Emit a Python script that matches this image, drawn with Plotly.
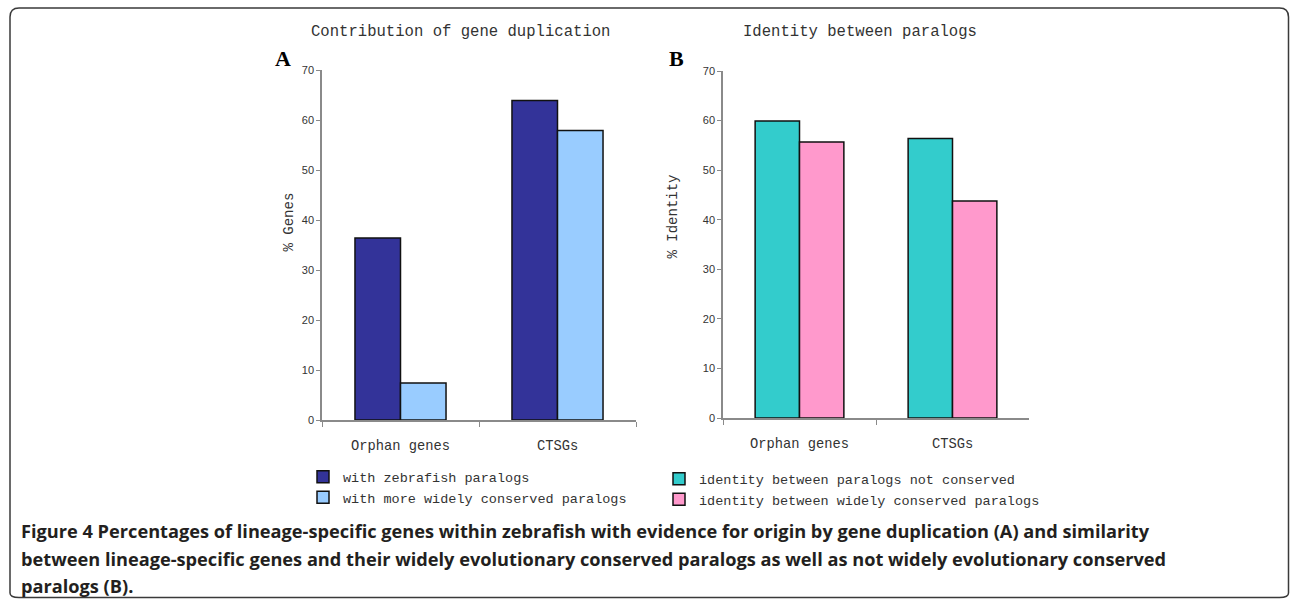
import plotly.graph_objects as go

W, H = 1290, 604

categories = ["Orphan genes", "CTSGs"]
with_zebrafish_paralogs = [36.4, 63.9]
with_widely_conserved_paralogs = [7.4, 57.9]
identity_not_conserved = [59.9, 56.4]
identity_widely_conserved = [55.7, 43.8]
y_ticks = [0, 10, 20, 30, 40, 50, 60, 70]

MONO = "Liberation Mono"
SANS = "Liberation Sans"
AX_GRAY = "#8a8a8a"
TXT = "#333333"


def px_x(v):
    return v / W


def px_y(v):
    # vertical placement helper (pixel from top -> paper fraction), with a small
    # correction for how the page is photographed
    t = (v - 6) / 0.9801
    t = min(max(t, 0.5), H - 0.5)
    return 1 - t / H


fig = go.Figure()

bar_line = dict(color="#111111", width=1.5)

fig.add_trace(go.Bar(x=categories, y=with_zebrafish_paralogs, name="with zebrafish paralogs",
                     marker=dict(color="#333399", line=bar_line), xaxis="x", yaxis="y", legend="legend"))
fig.add_trace(go.Bar(x=categories, y=with_widely_conserved_paralogs, name="with more widely conserved paralogs",
                     marker=dict(color="#99CCFF", line=bar_line), xaxis="x", yaxis="y", legend="legend"))
fig.add_trace(go.Bar(x=categories, y=identity_not_conserved, name="identity between paralogs not conserved",
                     marker=dict(color="#33CCCC", line=bar_line), xaxis="x2", yaxis="y2", legend="legend2"))
fig.add_trace(go.Bar(x=categories, y=identity_widely_conserved, name="identity between widely conserved paralogs",
                     marker=dict(color="#FF99CC", line=bar_line), xaxis="x2", yaxis="y2", legend="legend2"))

xax = dict(showline=True, linecolor=AX_GRAY, linewidth=1.5, ticks="outside", tickson="boundaries",
           ticklen=5, tickcolor=AX_GRAY, showgrid=False, zeroline=False,
           tickfont=dict(family=MONO, size=13.75, color=TXT), ticklabelstandoff=12, fixedrange=True)
yax = dict(showline=True, linecolor=AX_GRAY, linewidth=1.5, ticks="outside", ticklen=4,
           tickcolor=AX_GRAY, showgrid=False, zeroline=False, range=[0, 70], tickvals=y_ticks,
           tickfont=dict(family=SANS, size=11, color=TXT), fixedrange=True)

legend_common = dict(font=dict(family=MONO, size=13.5, color=TXT), bgcolor="rgba(0,0,0,0)",
                     xanchor="left", yanchor="top", tracegroupgap=0, itemclick=False, itemdoubleclick=False)

fig.update_layout(
    width=W, height=H,
    margin=dict(l=0, r=0, t=0, b=0),
    paper_bgcolor="white", plot_bgcolor="white",
    barmode="group", bargap=0.42, bargroupgap=0,
    xaxis=dict(xax, domain=[px_x(322), px_x(636)], anchor="y"),
    yaxis=dict(yax, domain=[px_y(420), px_y(70)], anchor="x"),
    xaxis2=dict(xax, domain=[px_x(723), px_x(1029)], anchor="y2"),
    yaxis2=dict(yax, domain=[px_y(418), px_y(71)], anchor="x2"),
    legend=dict(legend_common, x=px_x(303), y=px_y(461.5)),
    legend2=dict(legend_common, x=px_x(659), y=px_y(463.5)),
    showlegend=True,
)

annotations = [
    dict(text="Contribution of gene duplication", x=px_x(460), y=px_y(32),
         font=dict(family=MONO, size=15.6, color=TXT)),
    dict(text="Identity between paralogs", x=px_x(860), y=px_y(32),
         font=dict(family=MONO, size=15.6, color=TXT)),
    dict(text="<b>A</b>", x=px_x(283), y=px_y(58),
         font=dict(family="Liberation Serif", size=22, color="#000000")),
    dict(text="<b>B</b>", x=px_x(676), y=px_y(58),
         font=dict(family="Liberation Serif", size=22, color="#000000")),
    dict(text="% Genes", x=px_x(289.5), y=px_y(222), textangle=-90,
         font=dict(family=MONO, size=14, color=TXT)),
    dict(text="% Identity", x=px_x(673.5), y=px_y(217), textangle=-90,
         font=dict(family=MONO, size=14, color=TXT)),
]
caption_lines = [
    "Figure 4 Percentages of lineage-specific genes within zebrafish with evidence for origin by gene duplication (A) and similarity",
    "between lineage-specific genes and their widely evolutionary conserved paralogs as well as not widely evolutionary conserved",
    "paralogs (B).",
]
for i, line in enumerate(caption_lines):
    annotations.append(dict(text="<b>" + line + "</b>", x=px_x(19), y=px_y(531 + i * 27.5), xanchor="left",
                            font=dict(family="Open Sans", size=18.2, color="#231f20")))
for a in annotations:
    a.update(xref="paper", yref="paper", showarrow=False)
    a.setdefault("xanchor", "center")
    a.setdefault("yanchor", "middle")
fig.update_layout(annotations=annotations)

# rounded frame around the figure
r = 9
x0, x1, y0, y1 = 10, 1288.5, 8, 602
pts = (f"M {px_x(x0 + r)},{px_y(y0)} L {px_x(x1 - r)},{px_y(y0)} Q {px_x(x1)},{px_y(y0)} {px_x(x1)},{px_y(y0 + r)} "
       f"L {px_x(x1)},{px_y(y1 - r)} Q {px_x(x1)},{px_y(y1)} {px_x(x1 - r)},{px_y(y1)} "
       f"L {px_x(x0 + r)},{px_y(y1)} Q {px_x(x0)},{px_y(y1)} {px_x(x0)},{px_y(y1 - r)} "
       f"L {px_x(x0)},{px_y(y0 + r)} Q {px_x(x0)},{px_y(y0)} {px_x(x0 + r)},{px_y(y0)} Z")
fig.add_shape(type="path", path=pts, xref="paper", yref="paper",
              line=dict(color="#3a3a3a", width=1.5), fillcolor="rgba(0,0,0,0)", layer="below")

post = (
    "var de=document.documentElement, b=document.body;"
    "de.style.margin='0'; de.style.padding='0'; de.style.height='604px'; de.style.overflow='hidden';"
    "b.style.margin='0'; b.style.padding='0'; b.style.height='604px'; b.style.overflow='hidden';"
    "var d=document.getElementById('{plot_id}'); d.style.display='block';"
    "if (d.parentElement && d.parentElement !== b) { d.parentElement.style.height='604px';"
    " d.parentElement.style.overflow='hidden'; }"
)
fig.write_html("out.html", config={"displayModeBar": False}, post_script=post)
